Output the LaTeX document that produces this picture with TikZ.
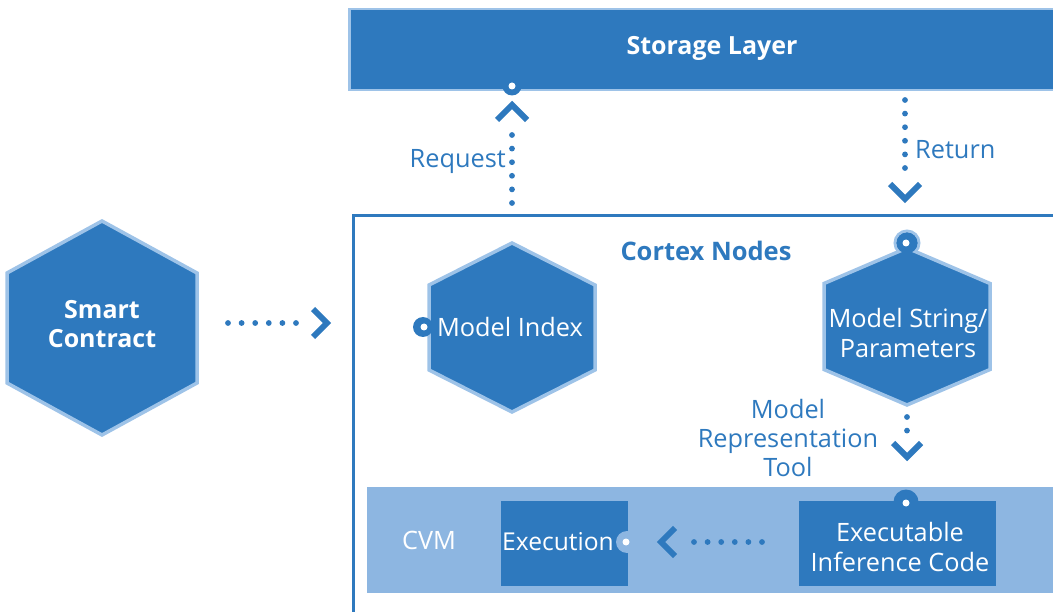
\documentclass[tikz,border=0pt]{standalone}
\usepackage{fontspec}
\setmainfont{Open Sans}
\definecolor{dblue}{HTML}{2E79BE}
\definecolor{lblue}{HTML}{8DB6E1}
\definecolor{hborder}{HTML}{9EC3E8}
\tikzset{
  dotline/.style={dblue, line width=5.8pt, line cap=round, dash pattern=on 0pt off 13.6pt},
  chev/.style={dblue, line width=6pt, miter limit=10},
  hexfill/.style={fill=dblue, draw=hborder, line width=3.5pt, line join=miter},
  wtext/.style={text=white, font=\fontsize{25.3}{29.5}\selectfont, align=center, inner sep=0pt},
  wbold/.style={text=white, font=\fontsize{25}{28.5}\selectfont\bfseries, align=center, inner sep=0pt},
  btext/.style={text=dblue, font=\fontsize{25.3}{29}\selectfont, align=center, inner sep=0pt},
  bbold/.style={text=dblue, font=\fontsize{25.5}{28}\selectfont\bfseries, align=center, inner sep=0pt},
  box/.style={fill=dblue, text=white, inner sep=0pt},
  portd/.style={fill=dblue},
  wdot/.style={fill=white},
}
\newcommand\hexshape[5]{\draw[hexfill, shift={(#1,#2)}] (0,-#4) -- (#3,-#5) -- (#3,#5) -- (0,#4) -- (-#3,#5) -- (-#3,-#5) -- cycle;}
\begin{document}
\begin{tikzpicture}[x=1pt,y=-1pt]
\useasboundingbox (0,0) rectangle (1053,612);
% Storage layer
\node[fill=dblue, draw=hborder, line width=2.5pt, minimum width=720pt, minimum height=81pt, anchor=north west, inner sep=0pt] (storage) at (348,8) {};
\node[wbold] (storaget) at (712,48) {Storage Layer};
% Cortex box
\draw[dblue, line width=3pt] (1060,216) -- (353,216) -- (353,620);
\coordinate (cortexTL) at (353,216);
\node[bbold] (cortext) at (706,251) {Cortex Nodes};
% CVM band
\node[fill=lblue, minimum width=700pt, minimum height=106pt, anchor=north west, inner sep=0pt] (cvm) at (367,487) {};
\node[wtext] (cvmt) at (429,540) {CVM};
% Smart contract hexagon
\hexshape{102}{328}{95}{107}{55}
\node[wbold] (sc) at (102,324) {Smart\\Contract};
% Model index hexagon
\hexshape{512}{327.5}{83}{84.5}{42.5}
\fill[portd] (423,327) circle (10);
\fill[wdot] (424,327) circle (3.5);
\node[wtext] (mi) at (510,327) {Model Index};
% Model string hexagon with port
\draw[fill=dblue, draw=hborder, line width=3pt] (907,243) circle (12);
\hexshape{907}{326.5}{83}{78.5}{43}
\fill[portd] (907,243) circle (10.5);
\fill[wdot] (906,243) circle (3.5);
\node[wtext] (ms) at (908,333) {Model String/\\Parameters};
% Storage port
\fill[portd] (512,86) circle (9.5);
\fill[wdot] (512,86) circle (3.5);
% boxes
\node[box, minimum width=127pt, minimum height=85pt, anchor=north west] (exe) at (501,501) {};
\node[wtext, font=\fontsize{24.6}{29}\selectfont, anchor=west] (exet) at (502,542) {Execution};
\node[box, minimum width=197pt, minimum height=85pt, anchor=north west] (eic) at (799,501) {};
\node[wtext] (eict) at (900,547) {Executable\\Inference Code};
% ports on boxes
\fill[lblue] (627,542) circle (11);
\fill[wdot] (626,542) circle (3.5);
\fill[portd] (906,502) circle (12.5);
\fill[wdot] (906,503) circle (3.5);
% connectors
\coordinate (reqA) at (512,203); \coordinate (reqB) at (512,135);
\draw[dotline] (reqA) -- (reqB);
\draw[chev] (497,120) -- (512,105) -- (527,120);
\node[btext, anchor=east] (reqt) at (506,162) {Request};
\coordinate (retA) at (905,100); \coordinate (retB) at (905,168.5);
\draw[dotline] (retA) -- (retB);
\draw[chev] (890,184) -- (905,199) -- (920,184);
\node[btext, anchor=west] (rett) at (915,150) {Return};
\coordinate (scA) at (228,323); \coordinate (scB) at (296.5,323);
\draw[dotline] (scA) -- (scB);
\draw[chev] (313,309) -- (327,323) -- (313,337);
\coordinate (msA) at (907,417); \coordinate (msB) at (907,431.5);
\draw[dotline] (msA) -- (msB);
\draw[chev] (893,443) -- (907,457) -- (921,443);
\node[btext] (mrt) at (788,438) {Model\\Representation\\Tool};
\coordinate (exA) at (762,542); \coordinate (exB) at (693.5,542);
\draw[dotline] (exA) -- (exB);
\draw[chev] (675,528) -- (661,542) -- (675,556);
\end{tikzpicture}
\end{document}
